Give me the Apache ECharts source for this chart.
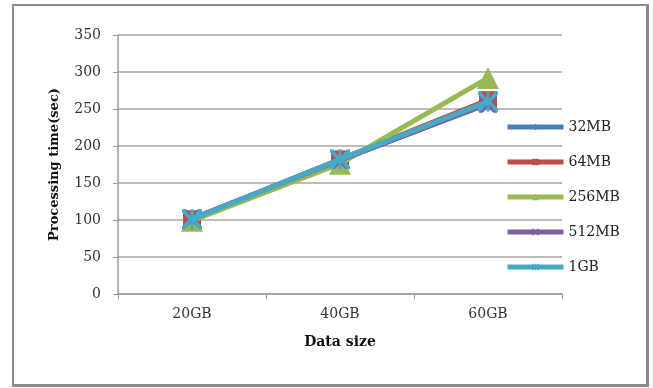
<!DOCTYPE html>
<html>
<head>
<meta charset="utf-8">
<script src="https://cdn.jsdelivr.net/npm/echarts@6/dist/echarts.min.js"></script>
<style>
  html, body { margin: 0; padding: 0; background: #fff; }
  #frame { position: absolute; left: 12px; top: 4px; width: 632px; height: 378px; border: 3px solid #8c8c8c; border-left-width: 2px; border-top-width: 2px; }
  #chart { position: absolute; left: 0; top: 0; width: 653px; height: 388px; }
</style>
</head>
<body>
<div id="frame"></div>
<div id="chart"></div>
<script>
// Processing time per data size, one series per block size
const categories = ['20GB', '40GB', '60GB'];
const seriesNames = ['32MB', '64MB', '256MB', '512MB', '1GB'];
const values32MB = [101, 181, 258];
const values64MB = [101, 182, 262];
const values256MB = [99, 176, 292];
const values512MB = [102, 181, 257];
const values1GB = [101, 182, 260];
const yTicks = { min: 0, max: 350, interval: 50 };

const colors = ['#4a7ebb', '#be4b48', '#98b954', '#7d60a0', '#46aac5'];
const symbols = ['diamond', 'rect', 'triangle',
  'path://M0,0L2,0L5,3L8,0L10,0L10,2L7,5L10,8L10,10L8,10L5,7L2,10L0,10L0,8L3,5L0,2Z',
  'path://M0,0L1.5,0L4.3,3.6L4.3,0L5.7,0L5.7,3.6L8.5,0L10,0L10,1.5L6.4,5L10,8.5L10,10L8.5,10L5.7,6.4L5.7,10L4.3,10L4.3,6.4L1.5,10L0,10L0,8.5L3.6,5L0,1.5Z'];
const symbolSizes = [12, 18, 22, 18, 20];
const allValues = [values32MB, values64MB, values256MB, values512MB, values1GB];

const chart = echarts.init(document.getElementById('chart'));
const fontFamily = '"DejaVu Serif", "Liberation Serif", serif';

chart.setOption({
  animation: false,
  textStyle: { fontFamily: fontFamily },
  grid: { left: 118, right: 91, top: 35, bottom: 94 },
  legend: {
    orient: 'vertical',
    left: 500,
    top: 115,
    itemWidth: 56,
    itemHeight: 8,
    itemGap: 21,
    lineStyle: { width: 5 },
    textStyle: { fontFamily: fontFamily, fontSize: 14, color: '#222' },
    data: seriesNames
  },
  xAxis: {
    type: 'category',
    data: categories,
    boundaryGap: true,
    name: 'Data size',
    nameLocation: 'middle',
    nameGap: 41,
    nameTextStyle: { fontFamily: fontFamily, fontWeight: 'bold', fontSize: 14, color: '#111' },
    axisLine: { lineStyle: { color: '#9a9a9a', width: 1.5 } },
    axisTick: { show: true, length: 5, lineStyle: { color: '#9a9a9a' } },
    axisLabel: { fontFamily: fontFamily, fontSize: 14, color: '#333', margin: 13 }
  },
  yAxis: {
    type: 'value',
    min: yTicks.min,
    max: yTicks.max,
    interval: yTicks.interval,
    name: 'Processing time(sec)',
    nameLocation: 'middle',
    nameGap: 57,
    nameRotate: 90,
    nameTextStyle: { fontFamily: fontFamily, fontWeight: 'bold', fontSize: 13, color: '#111' },
    axisLine: { show: true, lineStyle: { color: '#9a9a9a', width: 1.5 } },
    axisTick: { show: true, length: 5, lineStyle: { color: '#9a9a9a' } },
    axisLabel: { fontFamily: fontFamily, fontSize: 14, color: '#333', margin: 17 },
    splitLine: { lineStyle: { color: '#a6a6a6', width: 1.5 } }
  },
  series: seriesNames.map((name, i) => ({
    name: name,
    type: 'line',
    data: allValues[i],
    color: colors[i],
    symbol: symbols[i],
    symbolSize: symbolSizes[i],
    showAllSymbol: true,
    lineStyle: { width: 5, color: colors[i] },
    itemStyle: { color: colors[i] },
    z: 2 + i
  }))
});
</script>
</body>
</html>
